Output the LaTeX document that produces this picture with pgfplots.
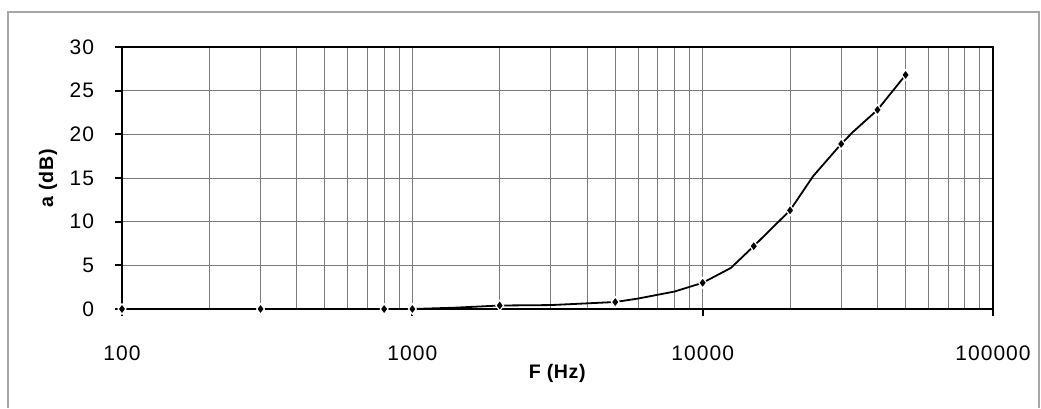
\documentclass[border=0pt]{standalone}
\usepackage{pgfplots}
\pgfplotsset{compat=1.18}
\usepackage{fontspec}
\setmainfont{Liberation Sans}
\newfontfamily\tickfont[LetterSpace=5]{Liberation Sans}
\newfontfamily\labelfont[LetterSpace=3]{Liberation Sans}
\definecolor{gridgray}{HTML}{7A7A7A}
\definecolor{framegray}{HTML}{A6A6A6}

\begin{document}
\begin{tikzpicture}
% page frame (1px = 0.5pt)
\useasboundingbox (-61pt,-49.5pt) rectangle (459.5pt,154.5pt);
\draw[framegray, line width=0.9pt] (-57pt,-49.5pt) -- (-57pt,148.5pt) -- (458.5pt,148.5pt) -- (458.5pt,-49.5pt);
\begin{axis}[
  at={(0,0)}, anchor=south west,
  scale only axis, width=435.5pt, height=131pt,
  xmode=log, xmin=100, xmax=100000,
  ymin=0, ymax=30,
  xtick={100,1000,10000,100000},
  xticklabels={100,1000,10000,100000},
  ytick={0,5,10,15,20,25,30},
  yticklabels={0,5,10,15,20,25,30},
  xtick pos=left, ytick pos=left,
  tick align=outside,
  major tick length=3.5pt, minor tick length=0pt,
  xmajorgrids, xminorgrids, ymajorgrids,
  grid style={gridgray, line width=0.5pt},
  minor grid style={gridgray, line width=0.5pt},
  axis line style={black, line width=1.4pt},
  every tick/.style={black, line width=1pt},
  tick label style={font=\tickfont\fontsize{10.5}{12}\selectfont},
  xticklabel style={yshift=-11.3pt},
  yticklabel style={xshift=-7pt},
  xlabel={\textbf{F (Hz)}}, ylabel={\textbf{a (dB)}},
  label style={font=\labelfont\fontsize{9.8}{11}\selectfont},
  xlabel style={at={(axis description cs:0.5,-0.245)}, anchor=center},
  ylabel style={at={(axis description cs:-0.085,0.5)}, anchor=center},
  clip=false,
]
% curve (unmarked)
\addplot[black, line width=0.9pt] coordinates {
  (100,0) (300,0) (800,0) (1000,0) (1400,0.15) (2000,0.4) (3000,0.45)
  (5000,0.8) (6000,1.2) (8000,2.0) (10000,3.0) (12500,4.7) (15000,7.2)
  (20000,11.3) (24000,15.2) (30000,18.9) (33000,20.3) (40000,22.8) (50000,26.8)};
% measured points
\addplot[only marks, mark=diamond*, mark size=2.6pt,
  mark options={fill=black, draw=white, line width=0.6pt}] coordinates {
  (100,0) (300,0) (800,0) (1000,0) (2000,0.4) (5000,0.8) (10000,3.0)
  (15000,7.2) (20000,11.3) (30000,18.9) (40000,22.8) (50000,26.8)};
\end{axis}
\end{tikzpicture}
\end{document}
